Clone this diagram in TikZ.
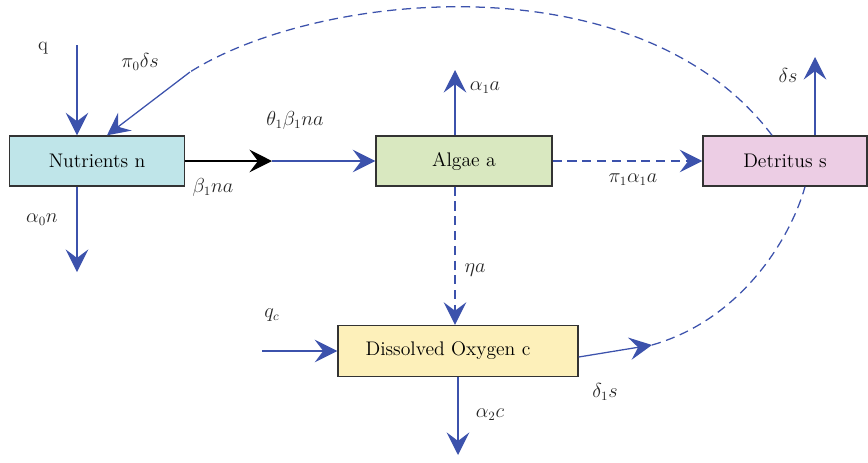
\documentclass[tikz,border=0pt]{standalone}
\usetikzlibrary{arrows.meta, positioning, calc}
\usepackage{amsmath}
\definecolor{flowBlue}{RGB}{60,82,172}
\definecolor{nutrFill}{RGB}{191,229,233}
\definecolor{algaeFill}{RGB}{217,232,192}
\definecolor{detrFill}{RGB}{236,205,228}
\definecolor{oxyFill}{RGB}{253,240,186}
\tikzset{
    poolBox/.style={
        draw=black!80, line width=1pt, minimum height=1.25cm, align=center, font=\fontsize{14}{16}\selectfont, inner sep=4pt
    },
    flowArrow/.style={
        -{Stealth[length=16pt, width=16pt, inset=6pt]}, line width=0.9pt, draw=flowBlue
    },
    flowDashed/.style={
        flowArrow, dash pattern=on 6.5pt off 4pt
    },
    flowLabel/.style={
        font=\fontsize{13.5}{16}\selectfont, text=black!85
    }
}
\begin{document}
\begin{tikzpicture}[x=0.025cm, y=-0.025cm]
    \useasboundingbox (0,0) rectangle (868,462);

    % ── POOLS
    \node[poolBox, fill=nutrFill, minimum width=4.375cm] (nutr) at (97,161) {Nutrients n};
    \node[poolBox, fill=algaeFill, minimum width=4.4cm] (algae) at (464,161) {Algae a};
    \node[poolBox, fill=detrFill, minimum width=4.1cm] (detr) at (785,161) {Detritus s};
    \node[poolBox, fill=oxyFill, minimum width=6cm, minimum height=1.275cm] (oxy) at (458,351) {Dissolved Oxygen c\hspace*{0.5cm}};

    % ── FREE ENDS
    \coordinate (qIn) at (77,45);
    \coordinate (lossN) at (77,272);
    \coordinate (uptakeMid) at (272,161);
    \coordinate (lossA) at (455,70);
    \coordinate (algaeOut) at ([xshift=-0.225cm]algae.south);
    \coordinate (lossS) at (815,57);
    \coordinate (qcIn) at (262,351);
    \coordinate (lossC) at (458,455);
    \coordinate (reaerMid) at (652,345);
    \coordinate (returnEnd) at (190,72);

    % ── FLOWS
    \draw[flowArrow] (qIn) -- (qIn |- nutr.north);
    \draw[flowArrow] (lossN |- nutr.south) -- (lossN);
    \draw[-{Stealth[length=16pt, width=16pt, inset=6pt]}, line width=0.9pt, black] (nutr.east) -- (uptakeMid);
    \draw[flowArrow] (uptakeMid) -- (algae.west);
    \draw[flowArrow] (lossA |- algae.north) -- (lossA);
    \draw[flowDashed] (algaeOut) -- (algaeOut |- oxy.north);
    \draw[flowDashed] (algae.east) -- (detr.west);
    \draw[flowArrow] (lossS |- detr.north) -- (lossS);
    \draw[flowArrow] (qcIn) -- (oxy.west);
    \draw[flowArrow] (oxy.south) -- (lossC);
    \draw[flowArrow] ([yshift=-0.15cm]oxy.east) -- (reaerMid);
    \draw[flowDashed, -] (reaerMid) .. controls (740,320) and (790,240) .. ([xshift=0.5cm]detr.south);
    \draw[flowDashed, -] ([xshift=-0.325cm]detr.north) .. controls (640,-40) and (320,-10) .. (returnEnd);
    \draw[flowArrow] (returnEnd) -- ([xshift=0.25cm]nutr.north);

    % ── LABELS
    \node[flowLabel] (lblQ) at (43,48) {q};
    \node[flowLabel] (lblRet) at (140,62) {$\pi_0\delta s$};
    \node[flowLabel] (lblUpA) at (295,120) {$\theta_1\beta_1 na$};
    \node[flowLabel] (lblUpN) at (213,187) {$\beta_1 na$};
    \node[flowLabel] (lblLossA) at (485,88) {$\alpha_1 a$};
    \node[flowLabel] (lblLossS) at (788,75) {$\delta s$};
    \node[flowLabel] (lblMort) at (633,180) {$\pi_1\alpha_1 a$};
    \node[flowLabel] (lblLossN) at (42,220) {$\alpha_0 n$};
    \node[flowLabel] (lblEta) at (475,270) {$\eta a$};
    \node[flowLabel] (lblQc) at (272,315) {$q_c$};
    \node[flowLabel] (lblDelta) at (605,392) {$\delta_1 s$};
    \node[flowLabel] (lblLossC) at (490,415) {$\alpha_2 c$};
\end{tikzpicture}
\end{document}
